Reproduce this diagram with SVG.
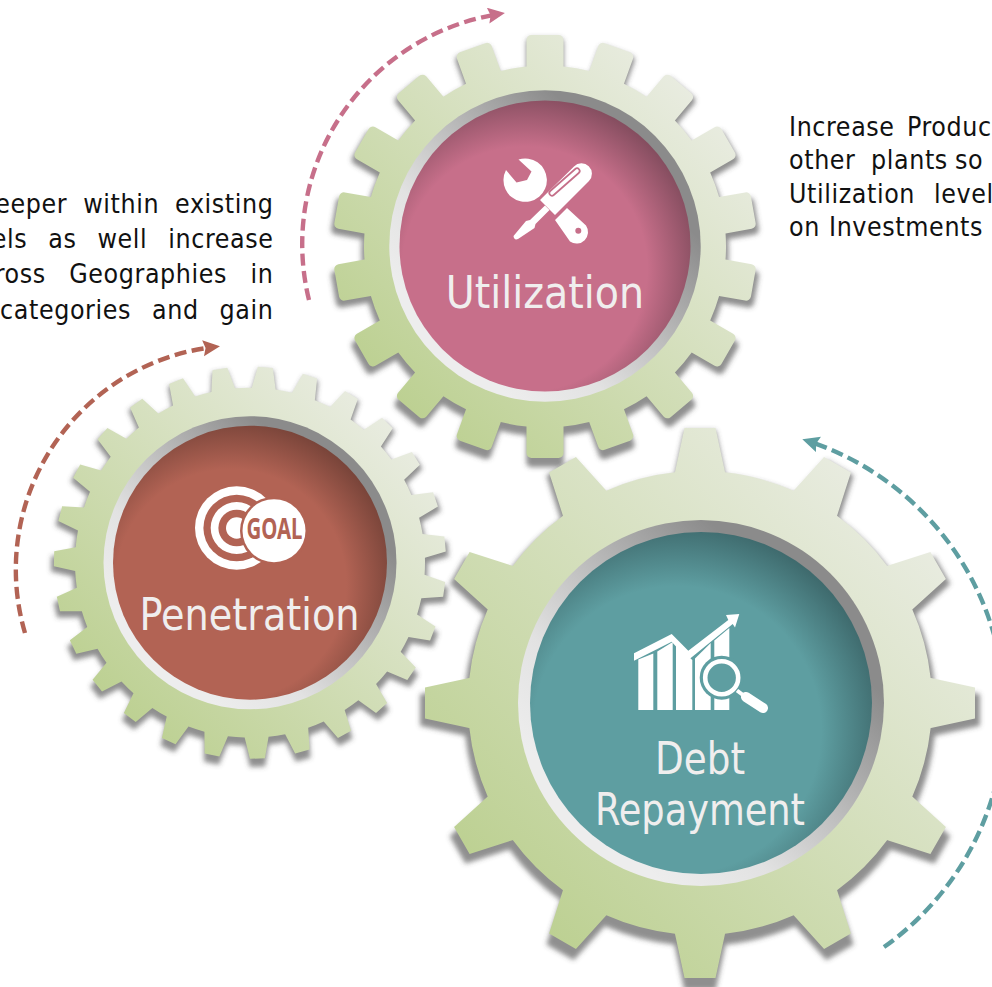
<svg xmlns="http://www.w3.org/2000/svg" xmlns:xlink="http://www.w3.org/1999/xlink" width="992" height="987" viewBox="0 0 992 987">
<style>
.body{font-family:"DejaVu Sans",sans-serif;font-stretch:condensed;font-size:26.5px;letter-spacing:.6px;fill:#111}
.label{font-family:"DejaVu Sans",sans-serif;font-stretch:condensed;font-size:44px;fill:#f0eeee;text-anchor:middle}
.arc{fill:none;stroke-width:4.4;stroke-dasharray:12 5.5}
.shadow{fill:#4a4a4a;opacity:.62}
.gearfill{fill:url(#gearGrad)}
.ring{fill:url(#ringGrad)}
.white{fill:#fff}
</style>
<defs>
<linearGradient id="gearGrad" x1="0" y1="1" x2="1" y2="0"><stop offset=".15" stop-color="#bcd091"/><stop offset=".85" stop-color="#e9ece1"/></linearGradient>
<linearGradient id="ringGrad" x1="0" y1="1" x2="1" y2="0"><stop offset=".2" stop-color="#ededed"/><stop offset=".36" stop-color="#e2e2e2"/><stop offset=".52" stop-color="#c0c0c0"/><stop offset=".76" stop-color="#8b8b8b"/></linearGradient>
<radialGradient id="pinkGrad" cx=".43" cy=".58" r=".62"><stop offset=".68" stop-color="#c76f8a"/><stop offset=".97" stop-color="#864e60"/></radialGradient>
<radialGradient id="redGrad" cx=".43" cy=".58" r=".62"><stop offset=".68" stop-color="#b26354"/><stop offset=".97" stop-color="#7a453a"/></radialGradient>
<radialGradient id="tealGrad" cx=".43" cy=".58" r=".62"><stop offset=".68" stop-color="#5e9ea1"/><stop offset=".97" stop-color="#3f6b6e"/></radialGradient>
<filter id="blur" x="-10%" y="-10%" width="120%" height="120%"><feGaussianBlur stdDeviation="2.4"/></filter>
<marker id="headPink" markerUnits="userSpaceOnUse" markerWidth="20" markerHeight="18" refX="11" refY="8" orient="auto"><path d="M0,0L17,8L0,16L2.5,8Z" fill="#c76f8a"/></marker>
<marker id="headRed" markerUnits="userSpaceOnUse" markerWidth="20" markerHeight="18" refX="11" refY="8" orient="auto"><path d="M0,0L17,8L0,16L2.5,8Z" fill="#b26354"/></marker>
<marker id="headTeal" markerUnits="userSpaceOnUse" markerWidth="20" markerHeight="18" refX="11" refY="8" orient="auto"><path d="M0,0L17,8L0,16L2.5,8Z" fill="#5e9ea1"/></marker>
<rect id="toothA" x="-18.5" y="-211.5" width="37" height="40" rx="5"/>
<polygon id="toothB" points="-7.5,-196 7.5,-196 12.5,-172 -12.5,-172"/>
<polygon id="toothC" points="-15.5,-275 15.5,-275 25,-231 25,-225 -25,-225 -25,-231"/>
<clipPath id="clipA"><circle r="181"/>
<use xlink:href="#toothA"/><use xlink:href="#toothA" transform="rotate(20)"/><use xlink:href="#toothA" transform="rotate(40)"/><use xlink:href="#toothA" transform="rotate(60)"/><use xlink:href="#toothA" transform="rotate(80)"/><use xlink:href="#toothA" transform="rotate(100)"/><use xlink:href="#toothA" transform="rotate(120)"/><use xlink:href="#toothA" transform="rotate(140)"/><use xlink:href="#toothA" transform="rotate(160)"/><use xlink:href="#toothA" transform="rotate(180)"/><use xlink:href="#toothA" transform="rotate(200)"/><use xlink:href="#toothA" transform="rotate(220)"/><use xlink:href="#toothA" transform="rotate(240)"/><use xlink:href="#toothA" transform="rotate(260)"/><use xlink:href="#toothA" transform="rotate(280)"/><use xlink:href="#toothA" transform="rotate(300)"/><use xlink:href="#toothA" transform="rotate(320)"/><use xlink:href="#toothA" transform="rotate(340)"/>
</clipPath>
<clipPath id="clipB"><circle r="175"/>
<use xlink:href="#toothB" transform="rotate(4.5)"/><use xlink:href="#toothB" transform="rotate(17.83)"/><use xlink:href="#toothB" transform="rotate(31.17)"/><use xlink:href="#toothB" transform="rotate(44.5)"/><use xlink:href="#toothB" transform="rotate(57.83)"/><use xlink:href="#toothB" transform="rotate(71.17)"/><use xlink:href="#toothB" transform="rotate(84.5)"/><use xlink:href="#toothB" transform="rotate(97.83)"/><use xlink:href="#toothB" transform="rotate(111.17)"/><use xlink:href="#toothB" transform="rotate(124.5)"/><use xlink:href="#toothB" transform="rotate(137.83)"/><use xlink:href="#toothB" transform="rotate(151.17)"/><use xlink:href="#toothB" transform="rotate(164.5)"/><use xlink:href="#toothB" transform="rotate(177.83)"/><use xlink:href="#toothB" transform="rotate(191.17)"/><use xlink:href="#toothB" transform="rotate(204.5)"/><use xlink:href="#toothB" transform="rotate(217.83)"/><use xlink:href="#toothB" transform="rotate(231.17)"/><use xlink:href="#toothB" transform="rotate(244.5)"/><use xlink:href="#toothB" transform="rotate(257.83)"/><use xlink:href="#toothB" transform="rotate(271.17)"/><use xlink:href="#toothB" transform="rotate(284.5)"/><use xlink:href="#toothB" transform="rotate(297.83)"/><use xlink:href="#toothB" transform="rotate(311.17)"/><use xlink:href="#toothB" transform="rotate(324.5)"/><use xlink:href="#toothB" transform="rotate(337.83)"/><use xlink:href="#toothB" transform="rotate(351.17)"/>
</clipPath>
<clipPath id="clipC"><circle r="232"/>
<use xlink:href="#toothC"/><use xlink:href="#toothC" transform="rotate(30)"/><use xlink:href="#toothC" transform="rotate(60)"/><use xlink:href="#toothC" transform="rotate(90)"/><use xlink:href="#toothC" transform="rotate(120)"/><use xlink:href="#toothC" transform="rotate(150)"/><use xlink:href="#toothC" transform="rotate(180)"/><use xlink:href="#toothC" transform="rotate(210)"/><use xlink:href="#toothC" transform="rotate(240)"/><use xlink:href="#toothC" transform="rotate(270)"/><use xlink:href="#toothC" transform="rotate(300)"/><use xlink:href="#toothC" transform="rotate(330)"/>
</clipPath>
</defs>

<g id="connectors">
<path class="arc" stroke="#c76f8a" marker-end="url(#headPink)" d="M309,300A233,233 0 0 1 499,14"/>
<path class="arc" stroke="#b26354" marker-end="url(#headRed)" d="M25,633A224,224 0 0 1 214,347"/>
<path class="arc" stroke="#5e9ea1" marker-end="url(#headTeal)" d="M884,947A286.5,286.5 0 0 0 808,441"/>
</g>

<g id="gear-utilization">
<g filter="url(#blur)"><g transform="translate(545,252.5) scale(1.015)"><rect class="shadow" clip-path="url(#clipA)" x="-220" y="-220" width="440" height="440"/></g></g>
<g transform="translate(545,246.5)"><rect class="gearfill" clip-path="url(#clipA)" x="-220" y="-220" width="440" height="440"/></g>
<circle class="ring" cx="545" cy="246" r="155.7"/>
<circle cx="545" cy="246" r="145.5" fill="url(#pinkGrad)"/>
<g class="white">
<path d="M506,170L516.5,182.5L527,180L531.5,171.5L518.5,159.5A21.7,21.7 0 1 1 506,170Z"/>
<path fill-rule="evenodd" d="M555,220L567,208L586,225.5A11.5,11.5 0 0 1 570,241.5ZM581.3,230.7a3,3 0 1 0 -6,0a3,3 0 1 0 6,0Z"/>
<path d="M540,200L574,166.5A10,10 0 0 1 589,181L555,215Z"/>
<path d="M545,205.5L549.5,210L535.5,224L534.5,228L518,239Q514,240.5 513.5,236L526,221L530,220Z"/>
</g>
<path d="M552,193L577,171" stroke="#c56f89" stroke-width="7" stroke-linecap="round" fill="none"/>
<path d="M552,193L577,171" stroke="#fff" stroke-width="3.6" stroke-linecap="round" fill="none"/>
<text class="label" x="545" y="308">Utilization</text>
</g>

<g id="gear-penetration">
<g filter="url(#blur)"><g transform="translate(250,568) scale(1.015)"><rect class="shadow" clip-path="url(#clipB)" x="-205" y="-205" width="410" height="410"/></g></g>
<g transform="translate(250,562.7)"><rect class="gearfill" clip-path="url(#clipB)" x="-205" y="-205" width="410" height="410"/></g>
<circle class="ring" cx="250" cy="562.7" r="146.5"/>
<circle cx="250" cy="562.7" r="137" fill="url(#redGrad)"/>
<circle class="white" cx="236.7" cy="528" r="41.7"/>
<circle cx="236.7" cy="528" r="33.3" fill="#b26354"/>
<circle class="white" cx="236.7" cy="528" r="26"/>
<circle cx="236.7" cy="528" r="18.3" fill="#b26354"/>
<circle class="white" cx="236.7" cy="528" r="10.7"/>
<circle cx="274" cy="530.7" r="34" fill="#b26354"/>
<circle class="white" cx="274" cy="530.7" r="31.5"/>
<text x="274.5" y="538.5" font-family="'Noto Sans',sans-serif" font-weight="700" font-size="28" fill="#b26354" text-anchor="middle" textLength="56" lengthAdjust="spacingAndGlyphs">GOAL</text>
<text class="label" x="249.5" y="630" textLength="220" lengthAdjust="spacingAndGlyphs">Penetration</text>
</g>

<g id="gear-debt">
<g filter="url(#blur)"><g transform="translate(700,710) scale(1.018)"><rect class="shadow" clip-path="url(#clipC)" x="-285" y="-285" width="570" height="570"/></g></g>
<g transform="translate(700,703)"><rect class="gearfill" clip-path="url(#clipC)" x="-285" y="-285" width="570" height="570"/></g>
<circle class="ring" cx="701" cy="703" r="183"/>
<circle cx="701" cy="703" r="171" fill="url(#tealGrad)"/>
<g class="white">
<path d="M638.3,659.5L653.3,653.5V710H638.3Z"/>
<path d="M657.3,651.5L672.7,642V710H657.3Z"/>
<path d="M676,645L692.3,660V710H676Z"/>
<path d="M695,658.5L710.7,643V710H695Z"/>
<path d="M714.3,640.5L729.3,628V710H714.3Z"/>
<path d="M634,653.3L671.7,634L688.3,650.7L728.3,620L726,615L739.3,614L735,627.5L732.7,624L688.3,660L671.7,641.7L634,660.7Z"/>
</g>
<circle cx="721.7" cy="677.7" r="22" fill="#5e9ea1"/>
<circle cx="721.7" cy="677.7" r="16.5" fill="none" stroke="#fff" stroke-width="4.6"/>
<path d="M737,690.5L743,695" stroke="#fff" stroke-width="4" fill="none"/>
<path d="M746,697L763,708" stroke="#fff" stroke-width="10" stroke-linecap="round" fill="none"/>
<text class="label" x="700" y="774" textLength="90" lengthAdjust="spacingAndGlyphs">Debt</text>
<text class="label" x="700" y="825" textLength="210" lengthAdjust="spacingAndGlyphs">Repayment</text>
</g>

<g id="text-left" class="body" text-anchor="end">
<text x="273.5" y="212.5" word-spacing="7.8">eeper within existing</text>
<text x="273.5" y="248" word-spacing="12.8">els as well increase</text>
<text x="273.5" y="283" word-spacing="15.3">ross Geographies in</text>
<text x="273.5" y="318.5" word-spacing="12.8">categories and gain</text>
</g>

<g id="text-right" class="body">
<text y="135.5"><tspan x="789">Increase </tspan><tspan x="907">Produc</tspan></text>
<text y="169"><tspan x="789">other </tspan><tspan x="871">plants </tspan><tspan x="955">so</tspan></text>
<text y="202.5"><tspan x="789">Utilization </tspan><tspan x="934">level</tspan></text>
<text y="236"><tspan x="789">on </tspan><tspan x="829">Investments</tspan></text>
</g>
</svg>
